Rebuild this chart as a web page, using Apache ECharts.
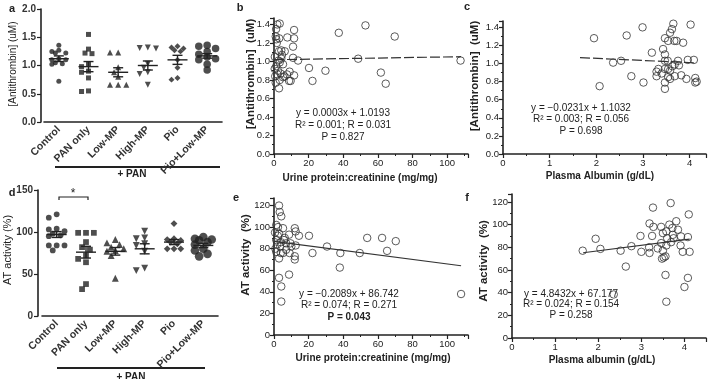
<!DOCTYPE html>
<html>
<head>
<meta charset="utf-8">
<script src="https://cdn.jsdelivr.net/npm/echarts@6/dist/echarts.min.js"></script>
<style>
  html, body { margin: 0; padding: 0; background: #fff; }
  #chart { width: 709px; height: 379px; }
</style>
</head>
<body>
<div id="chart"></div>
<script>
// groups on the a / d panels
const groups = ["Control", "PAN only", "Low-MP", "High-MP", "Pio", "Pio+Low-MP"];

// a: antithrombin concentration (uM)
const concControl = [1.36, 1.27, 1.22, 1.25, 1.22, 1.12, 1.10, 1.10, 1.05, 1.03, 1.02, 0.72];
const concPan = [1.55, 1.29, 1.22, 1.21, 1.03, 0.98, 0.90, 0.88, 0.78, 0.55, 0.54];
const concLowMp = [1.23, 1.23, 0.97, 0.88, 0.80, 0.66, 0.66, 0.66];
const concHighMp = [1.32, 1.30, 1.31, 1.03, 0.96, 0.88, 0.85, 0.66];
const concPio = [1.34, 1.32, 1.30, 1.27, 1.25, 1.10, 0.96, 0.78, 0.75];
const concPioLowMp = [1.36, 1.34, 1.30, 1.25, 1.20, 1.15, 1.12, 1.10, 1.02, 0.92];
const concMean = [1.12, 0.98, 0.88, 1.00, 1.10, 1.17];
const concSem = [0.05, 0.09, 0.08, 0.08, 0.08, 0.04];

// d: AT activity (%)
const actControl = [121, 117, 104, 103, 101, 98, 96, 95, 84, 84, 84, 78];
const actPan = [99, 99, 99, 88, 82, 79, 72, 68, 64, 38, 32];
const actLowMp = [91, 87, 85, 82, 80, 78, 77, 72, 45];
const actHighMp = [101, 93, 92, 86, 84, 77, 57, 54];
const actPio = [110, 92, 91, 90, 88, 86, 80, 80, 80];
const actPioLowMp = [94, 92, 91, 90, 88, 85, 80, 78, 74, 71];
const actMean = [97, 76, 77, 80, 88, 84];
const actSem = [3.5, 7, 4.5, 6, 3, 2.5];

// b: urine protein:creatinine vs antithrombin
const bPoints = [[1.9,1.40],[3.3,1.41],[1.0,1.27],[1.3,1.24],[2.9,1.11],[4.2,1.12],[7.7,1.26],[11.6,1.34],[11.6,1.25],[11.0,1.16],[11.0,1.04],[13.9,1.01],[6.2,1.11],[4.2,1.03],[3.3,0.99],[5.2,0.97],[1.3,0.95],[2.3,0.90],[9.0,0.89],[3.3,0.80],[5.2,0.83],[1.0,0.77],[8.7,0.79],[2.9,0.71],[11.6,0.85],[20.2,0.93],[22.2,0.79],[29.7,0.90],[37.4,1.31],[48.6,1.03],[52.8,1.39],[61.7,0.88],[64.5,0.76],[69.7,1.27],[107.7,1.01],[0.5,1.05],[2.0,0.86],[1.6,1.20],[3.8,0.87],[0.7,0.84],[4.6,1.07],[6.0,0.84],[2.6,1.01],[9.6,0.79],[1.2,1.35],[3.0,1.25],[0.4,0.92],[7.5,0.86]];
// c: plasma albumin vs antithrombin
const cPoints = [[1.95,1.28],[2.07,0.75],[2.36,1.01],[2.53,1.03],[2.65,1.31],[2.75,0.86],[2.99,1.40],[3.01,0.79],[3.19,1.12],[3.29,0.91],[3.29,0.86],[3.33,0.94],[3.40,0.89],[3.43,1.16],[3.47,1.10],[3.47,1.28],[3.54,1.25],[3.58,1.34],[3.62,1.38],[3.65,1.44],[3.67,1.25],[3.72,1.25],[3.47,1.03],[3.53,1.03],[3.54,0.94],[3.58,0.92],[3.63,0.97],[3.68,0.99],[3.75,1.03],[3.77,0.98],[3.47,0.79],[3.47,0.72],[3.58,0.83],[3.68,0.86],[3.82,0.87],[3.86,1.23],[3.93,0.83],[3.96,1.04],[4.02,1.43],[4.09,1.04],[4.12,0.84],[4.12,0.79],[4.15,0.80],[3.54,0.85],[3.47,0.94]];
// e: urine protein:creatinine vs AT activity
const ePoints = [[2.9,120],[3.3,114],[4.2,110],[1.3,102],[2.3,100],[5.2,99],[2.9,94],[6.2,90],[8.7,93],[12.0,99],[12.5,96],[14.4,92],[1.3,88],[4.0,86],[7.0,85],[10.0,82],[12.5,83],[5.2,76],[9.0,76],[12.0,73],[12.0,70],[2.9,71],[1.3,77],[7.0,79],[8.7,56],[2.9,53],[4.2,45],[4.2,31],[20.2,92],[22.2,76],[30.6,82],[38.3,76],[38.0,62.5],[49.5,76],[53.8,90],[62.4,90],[65.3,78],[70.3,87],[108,38],[0.6,95],[3.6,82],[1.8,84],[5.8,88],[0.8,80],[2.2,92],[9.5,85],[3.9,76]];
// f: plasma albumin vs AT activity
const fPoints = [[1.64,77],[1.94,87.5],[2.05,78.6],[2.52,77],[2.77,81],[2.64,63],[2.36,38.4],[2.98,90],[3.0,76],[3.27,115],[3.19,101],[3.28,98],[3.25,90],[3.18,80],[3.19,75],[3.46,98],[3.5,92.5],[3.58,94],[3.65,100],[3.68,119],[3.72,97],[3.81,103],[3.85,95.5],[3.73,91],[3.69,84.5],[3.58,81.6],[3.46,83.7],[3.38,79],[3.5,77],[3.52,71],[3.56,72],[3.48,70],[3.56,55.6],[3.58,32],[3.92,89.6],[3.91,81.6],[3.96,76],[4.0,45],[4.08,53],[4.1,109],[4.08,89],[4.12,76],[3.75,88],[3.6,88]];

// regression fits, order b, c, e, f
const fitSlope = [0.0003, -0.0231, -0.2089, 4.8432];
const fitIntercept = [1.0193, 1.1032, 86.742, 67.177];
const fitFrom = [0, 1.65, 0, 1.65];
const fitTo = [108, 4.12, 108, 4.12];
const fitText = [
  ["y = 0.0003x + 1.0193", "R\u00b2 = 0.001; R = 0.031", "P = 0.827"],
  ["y = \u22120.0231x + 1.1032", "R\u00b2 = 0.003; R = 0.056", "P = 0.698"],
  ["y = \u22120.2089x + 86.742", "R\u00b2 = 0.074; R = 0.271", "P = 0.043"],
  ["y = 4.8432x + 67.177", "R\u00b2 = 0.024; R = 0.154", "P = 0.258"]
];

const FONT = "'Liberation Sans', Arial, sans-serif";
const INK = "#222";

const chart = echarts.init(document.getElementById("chart"));

// spread markers of one column sideways (prism style), overlap allowed a bit
function swarm(values, pxPerUnit, size) {
  const order = values.map((v, i) => i).sort((i, j) => values[j] - values[i]);
  const placed = [];
  const offs = new Array(values.length).fill(0);
  const slots = [0, -0.6, 0.6, -1.2, 1.2];
  order.forEach(i => {
    const y = values[i] * pxPerUnit;
    let best = 0, bestD = -1;
    for (const s of slots) {
      const x = s * size;
      const d = placed.reduce((m, p) => Math.min(m, Math.hypot(p[0] - x, p[1] - y)), Infinity);
      if (d >= size * 0.8) { best = x; bestD = Infinity; break; }
      if (d > bestD) { bestD = d; best = x; }
    }
    placed.push([best, y]);
    offs[i] = best;
  });
  return offs;
}

function stepFormatter(step, decimals) {
  return v => {
    const r = v / step;
    if (Math.abs(r - Math.round(r)) > 1e-6) return "";
    return decimals ? v.toFixed(decimals) : String(Math.round(v));
  };
}

const axisLine = { lineStyle: { color: INK, width: 1.6 } };
const axisTick = { length: 4, lineStyle: { color: INK, width: 1.2 } };

function catAxis(gridIndex) {
  return {
    gridIndex, type: "category", data: groups,
    axisLine, axisTick: { ...axisTick, alignWithLabel: true },
    axisLabel: { rotate: 45, margin: 6, fontFamily: FONT, fontSize: 10.5, fontWeight: "bold", color: "#333" }
  };
}

function valAxis(gridIndex, max, step, decimals, extra) {
  return Object.assign({
    gridIndex, type: "value", min: 0, max, interval: step,
    axisLine: { show: true, ...axisLine }, axisTick: { show: true, ...axisTick },
    splitLine: { show: false },
    axisLabel: { margin: 4, fontFamily: FONT, fontSize: 9.5, color: INK, formatter: stepFormatter(step, decimals) }
  }, extra || {});
}

const minor = { minorTick: { show: true, splitNumber: 2, length: 2, lineStyle: { color: INK, width: 1 } } };

const symbols = [
  { symbol: "circle", size: 5 },
  { symbol: "rect", size: 5 },
  { symbol: "triangle", size: 6 },
  { symbol: "triangle", size: 6, rotate: 180 },
  { symbol: "rect", size: 4.2, rotate: 45 },
  { symbol: "circle", size: 7.5 }
];

function groupSeries(axisIndex, lists, pxPerUnit, scale) {
  return lists.map((vals, gi) => {
    const sym = symbols[gi];
    const sz = sym.size * scale;
    const offs = swarm(vals, pxPerUnit, Math.min(sz + 0.8, 7));
    return {
      type: "scatter", xAxisIndex: axisIndex, yAxisIndex: axisIndex,
      symbol: sym.symbol, symbolSize: sz, symbolRotate: sym.rotate || 0,
      itemStyle: { color: INK }, z: 3,
      data: vals.map((v, k) => ({ value: [gi, v], symbolOffset: [offs[k], 0] }))
    };
  });
}

function meanSemSeries(axisIndex, means, sems) {
  return {
    type: "custom", xAxisIndex: axisIndex, yAxisIndex: axisIndex, z: 5,
    data: means.map((m, i) => [i, m, sems[i]]),
    renderItem(params, api) {
      const c = api.coord([api.value(0), api.value(1)]);
      const hi = api.coord([api.value(0), api.value(1) + api.value(2)]);
      const lo = api.coord([api.value(0), api.value(1) - api.value(2)]);
      const st = { stroke: INK, lineWidth: 1.4 };
      return {
        type: "group",
        children: [
          { type: "line", shape: { x1: c[0] - 10, y1: c[1], x2: c[0] + 10, y2: c[1] }, style: st },
          { type: "line", shape: { x1: c[0], y1: hi[1], x2: c[0], y2: lo[1] }, style: st },
          { type: "line", shape: { x1: c[0] - 5, y1: hi[1], x2: c[0] + 5, y2: hi[1] }, style: st },
          { type: "line", shape: { x1: c[0] - 5, y1: lo[1], x2: c[0] + 5, y2: lo[1] }, style: st }
        ]
      };
    }
  };
}

function pointSeries(axisIndex, pts) {
  return {
    type: "scatter", xAxisIndex: axisIndex, yAxisIndex: axisIndex,
    symbol: "circle", symbolSize: 7.5, z: 3,
    itemStyle: { color: "rgba(255,255,255,0)", borderColor: "#333", borderWidth: 1 },
    data: pts
  };
}

function fitSeries(axisIndex, k, dashed) {
  const m = fitSlope[k], b = fitIntercept[k];
  return {
    type: "line", xAxisIndex: axisIndex, yAxisIndex: axisIndex,
    showSymbol: false, silent: true, z: 2,
    lineStyle: { color: "#333", width: 1.2, type: dashed ? [10, 3] : "solid" },
    data: [[fitFrom[k], m * fitFrom[k] + b], [fitTo[k], m * fitTo[k] + b]]
  };
}

function txt(x, y, text, size, weight, rotate) {
  return {
    type: "text", x, y, rotation: rotate ? Math.PI / 2 : 0, silent: true,
    style: { text, fill: INK, align: "center", verticalAlign: "middle",
      font: (weight || "normal") + " " + size + "px " + FONT }
  };
}

function eqText(cx, ys, k, boldP) {
  return fitText[k].map((t, i) => txt(cx, ys[i], t, 10, boldP && i === 2 ? "bold" : "normal"));
}

const option = {
  animation: false,
  backgroundColor: "#fff",
  grid: [
    { left: 44, top: 9, width: 178, height: 113 },   // a
    { left: 274, top: 18, width: 194, height: 136 },  // b
    { left: 503, top: 21, width: 205, height: 133 },  // c
    { left: 42, top: 190, width: 176, height: 126 },  // d
    { left: 274, top: 198, width: 194, height: 137 }, // e
    { left: 512, top: 194, width: 195, height: 144 }  // f
  ],
  xAxis: [
    catAxis(0),
    valAxis(1, 112, 20, 0, minor),
    valAxis(2, 4.35, 1, 0, minor),
    catAxis(3),
    valAxis(4, 112, 20, 0, minor),
    valAxis(5, 4.5, 1, 0, minor)
  ],
  yAxis: [
    valAxis(0, 2, 0.5, 1, { offset: 3, axisLabel: { margin: 5, fontFamily: FONT, fontSize: 10, fontWeight: "bold", color: "#333", formatter: stepFormatter(0.5, 1) } }),
    valAxis(1, 1.47, 0.2, 1, minor),
    valAxis(2, 1.47, 0.2, 1, minor),
    valAxis(3, 150, 50, 0, { offset: 4, axisLabel: { margin: 5, fontFamily: FONT, fontSize: 10, fontWeight: "bold", color: "#333", formatter: stepFormatter(50, 0) } }),
    valAxis(4, 127, 20, 0, minor),
    valAxis(5, 127, 20, 0, minor)
  ],
  series: [
    ...groupSeries(0, [concControl, concPan, concLowMp, concHighMp, concPio, concPioLowMp], 113 / 2, 1),
    meanSemSeries(0, concMean, concSem),
    ...groupSeries(3, [actControl, actPan, actLowMp, actHighMp, actPio, actPioLowMp], 126 / 150, 1.15),
    meanSemSeries(3, actMean, actSem),
    pointSeries(1, bPoints), fitSeries(1, 0, true),
    pointSeries(2, cPoints), fitSeries(2, 1, true),
    pointSeries(4, ePoints), fitSeries(4, 2, false),
    pointSeries(5, fPoints), fitSeries(5, 3, false)
  ],
  graphic: [
    // panel letters
    txt(12, 9, "a", 11, "bold"), txt(240, 8, "b", 11, "bold"), txt(467, 7, "c", 11, "bold"),
    txt(12, 193, "d", 11, "bold"), txt(236, 198, "e", 11, "bold"), txt(467, 198, "f", 11, "bold"),
    // y axis names
    txt(13, 64, "[Antithrombin] (uM)", 10, "normal", true),
    txt(8, 250, "AT activity (%)", 11, "normal", true),
    txt(251, 74, "[Antithrombin]  (uM)", 11.5, "bold", true),
    txt(475, 76, "[Antithrombin]  (uM)", 11.5, "bold", true),
    txt(246, 255, "AT activity  (%)", 11.5, "bold", true),
    txt(484, 261, "AT activity  (%)", 11.5, "bold", true),
    // x axis names
    txt(360, 178, "Urine protein:creatinine (mg/mg)", 10, "bold"),
    txt(600, 176, "Plasma Albumin (g/dL)", 10, "bold"),
    txt(373, 358, "Urine protein:creatinine (mg/mg)", 10, "bold"),
    txt(602, 360, "Plasma albumin (g/dL)", 10, "bold"),
    // + PAN bars
    { type: "line", silent: true, shape: { x1: 55, y1: 167, x2: 220, y2: 167 }, style: { stroke: INK, lineWidth: 2 } },
    txt(132, 174, "+ PAN", 10, "bold"),
    { type: "line", silent: true, shape: { x1: 57, y1: 368, x2: 205, y2: 368 }, style: { stroke: INK, lineWidth: 2 } },
    txt(131, 377, "+ PAN", 10, "bold"),
    // significance bracket in d
    { type: "polyline", silent: true, shape: { points: [[59, 200], [59, 197], [88, 197], [88, 200]] }, style: { stroke: INK, lineWidth: 1.2, fill: null } },
    txt(73, 194, "*", 12, "normal"),
    // regression statistics
    ...eqText(343, [113, 125, 137], 0, false),
    ...eqText(581, [108, 119, 131], 1, false),
    ...eqText(349, [294, 305, 317], 2, true),
    ...eqText(571, [294, 304, 315], 3, false)
  ]
};

chart.setOption(option);
</script>
</body>
</html>
